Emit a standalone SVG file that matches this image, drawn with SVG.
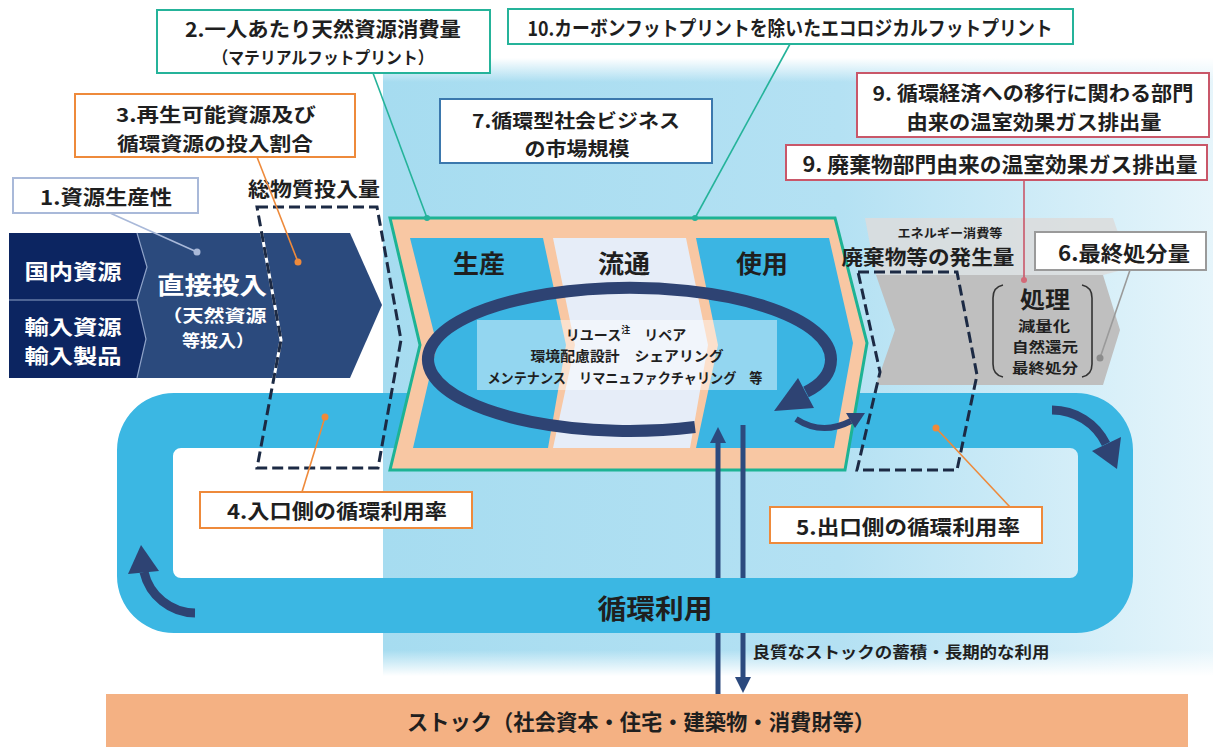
<svg xmlns="http://www.w3.org/2000/svg" width="1213" height="747" viewBox="0 0 1213 747">
<defs>
<linearGradient id="bgH" x1="0" y1="0" x2="1" y2="0">
<stop offset="0" stop-color="#a6dcf0"/>
<stop offset="0.55" stop-color="#b4e1f3"/>
<stop offset="1" stop-color="#e6f5fb"/>
</linearGradient>
<linearGradient id="fadeTop" x1="0" y1="0" x2="0" y2="1">
<stop offset="0" stop-color="#ffffff" stop-opacity="1"/>
<stop offset="1" stop-color="#ffffff" stop-opacity="0"/>
</linearGradient>
<linearGradient id="fadeBot" x1="0" y1="0" x2="0" y2="1">
<stop offset="0" stop-color="#ffffff" stop-opacity="0"/>
<stop offset="1" stop-color="#ffffff" stop-opacity="1"/>
</linearGradient>
<style>
text { font-family: "Noto Sans CJK JP", "Noto Sans", sans-serif; font-weight: bold; fill: #1f1f1f; text-anchor: middle; dominant-baseline: central; }
.wt { fill: #ffffff; }
.box { fill: #ffffff; stroke-width: 2; }
.teal { stroke: #25b39a; }
.org { stroke: #ee8a3b; }
.pink { stroke: #c95769; }
.steel { stroke: #3b78ad; }
.lav { stroke: #a9b9d9; }
.gry { stroke: #9a9a9a; }
.dash { fill: none; stroke: #1c2a44; stroke-width: 3; stroke-dasharray: 11 5; }
.shaft { fill: none; stroke: #2e4373; stroke-linecap: butt; }
.head { fill: #2e4373; }
.vline { stroke: #2c4a7e; stroke-width: 5; }
.vhead { fill: #2c4a7e; }
.lead { fill: none; stroke-width: 1.6; }
.panel { fill: #3bb5e3; }
</style>
</defs>

<g id="background">
<rect x="383" y="58" width="830" height="618" fill="url(#bgH)"/>
<rect x="383" y="58" width="830" height="24" fill="url(#fadeTop)"/>
<rect x="383" y="650" width="830" height="26" fill="url(#fadeBot)"/>
</g>

<g id="input-arrow">
<polygon points="137,233 350,233 382,305 350,378 137,378" fill="#2b4a7d"/>
<polygon points="9,233 137,233 147,267 137,300 146,339 137,378 9,378" fill="#0c2561"/>
<polyline points="137,233 147,267 137,300 146,339 137,378" fill="none" stroke="#8fa3c8" stroke-width="1.2"/>
<line x1="9" y1="300" x2="137" y2="300" stroke="#8fa3c8" stroke-width="1.2"/>
<text class="wt" x="73" y="270" font-size="21" textLength="97" lengthAdjust="spacingAndGlyphs">国内資源</text>
<text class="wt" x="73" y="326" font-size="20" textLength="97" lengthAdjust="spacingAndGlyphs">輸入資源</text>
<text class="wt" x="73" y="355" font-size="20" textLength="97" lengthAdjust="spacingAndGlyphs">輸入製品</text>
<text class="wt" x="212" y="283" font-size="24" textLength="110" lengthAdjust="spacingAndGlyphs">直接投入</text>
<text class="wt" x="214" y="314" font-size="17" textLength="105" lengthAdjust="spacingAndGlyphs">（天然資源</text>
<text class="wt" x="218" y="339" font-size="17" textLength="72" lengthAdjust="spacingAndGlyphs">等投入）</text>
</g>

<g id="ring">
<path fill="#3bb7e3" fill-rule="evenodd" d="M174,393 H1076 A57,57 0 0 1 1133,450 V576 A57,57 0 0 1 1076,633 H174 A57,57 0 0 1 117,576 V450 A57,57 0 0 1 174,393 Z M181,448 H1070 A8,8 0 0 1 1078,456 V570 A8,8 0 0 1 1070,578 H181 A8,8 0 0 1 173,570 V456 A8,8 0 0 1 181,448 Z"/>
<text x="655" y="607" font-size="27" fill="#1c2740" textLength="115" lengthAdjust="spacingAndGlyphs">循環利用</text>
</g>

<g id="lifecycle">
<polygon points="390,218 835,218 867,343 845,470 390,470 420,345" fill="#f8c7a3" stroke="#1db394" stroke-width="3"/>
<polygon class="panel" points="410,238 543,238 566,345 548,448 413,448 437,345"/>
<polygon points="553,238 686,238 708,345 690,448 553,448 575,345" fill="#e6edf8"/>
<polygon class="panel" points="696,238 829,238 853,343 834,448 696,448 718,345"/>
<text x="479" y="262" font-size="25" textLength="52" lengthAdjust="spacingAndGlyphs">生産</text>
<text x="624" y="262" font-size="25" textLength="52" lengthAdjust="spacingAndGlyphs">流通</text>
<text x="762" y="262" font-size="25" textLength="52" lengthAdjust="spacingAndGlyphs">使用</text>
<rect x="477" y="320" width="300" height="70" fill="#ffffff" fill-opacity="0.45"/>
<text x="626" y="334" font-size="14"><tspan>リユース</tspan><tspan font-size="9" dy="-5">注</tspan><tspan dy="5">　リペア</tspan></text>
<text x="627" y="355" font-size="14" textLength="193" lengthAdjust="spacingAndGlyphs">環境配慮設計　シェアリング</text>
<text x="625" y="377" font-size="14" textLength="275" lengthAdjust="spacingAndGlyphs">メンテナンス　リマニュファクチャリング　等</text>
</g>

<g id="disposal">
<polygon points="865,218 1113,218 1130,268 1103,275 876,275 871,250" fill="#dcdcdc" fill-opacity="0.85"/>
<polygon points="876,275 1103,275 1120,330 1103,385 876,385 895,330" fill="#bfbfbf"/>
<text x="950" y="232" font-size="12" textLength="105" lengthAdjust="spacingAndGlyphs">エネルギー消費等</text>
<text x="928" y="256" font-size="20" textLength="173" lengthAdjust="spacingAndGlyphs">廃棄物等の発生量</text>
<path d="M1003,285 Q993,287 993,298 V364 Q993,375 1003,377" fill="none" stroke="#333333" stroke-width="1.6"/>
<path d="M1082,285 Q1092,287 1092,298 V364 Q1092,375 1082,377" fill="none" stroke="#333333" stroke-width="1.6"/>
<text x="1045" y="298" font-size="23" textLength="50" lengthAdjust="spacingAndGlyphs">処理</text>
<text x="1044" y="325" font-size="14" textLength="52" lengthAdjust="spacingAndGlyphs">減量化</text>
<text x="1045" y="346" font-size="14" textLength="66" lengthAdjust="spacingAndGlyphs">自然還元</text>
<text x="1045" y="367" font-size="14" textLength="66" lengthAdjust="spacingAndGlyphs">最終処分</text>
</g>

<g id="stock">
<rect x="106" y="694" width="1082" height="53" fill="#f4b183"/>
<text x="641" y="720" font-size="22" textLength="468" lengthAdjust="spacingAndGlyphs">ストック（社会資本・住宅・建築物・消費財等）</text>
</g>

<g id="connectors">
<path class="shaft" stroke-width="12" d="M695,427 A201.5,71.5 0 1 1 831,359.5 C831,374 822,384 806,392"/>
<polygon class="head" points="774,411 814,408 798,378"/>
<path class="shaft" stroke-width="6" d="M796,419 Q822,436 851,421"/>
<polygon class="head" points="865,413 855,428 846,413"/>
<path class="shaft" stroke-width="9" d="M195,613 A53,53 0 0 1 144,572"/>
<polygon class="head" points="141,545 159,571 128,574"/>
<path class="shaft" stroke-width="9" d="M1052,410 A60,60 0 0 1 1106,444"/>
<polygon class="head" points="1117,469 1121,437 1092,451"/>
<line class="vline" x1="718" y1="694" x2="718" y2="633"/>
<line class="vline" x1="718" y1="578" x2="718" y2="441"/>
<polygon class="vhead" points="718,427 710,443 726,443"/>
<line class="vline" x1="743" y1="425" x2="743" y2="578"/>
<line class="vline" x1="743" y1="633" x2="743" y2="679"/>
<polygon class="vhead" points="743,693 735,677 751,677"/>
<text x="901" y="651" font-size="16" textLength="297" lengthAdjust="spacingAndGlyphs">良質なストックの蓄積・長期的な利用</text>
</g>

<g id="input-total">
<polyline points="261.7,233 281,340 273.9,378" fill="none" stroke="#ffffff" stroke-width="3"/>
<polygon class="dash" points="257,207 377,207 401,340 378,468 257,468 281,340"/>
<text x="314" y="188" font-size="20" textLength="132" lengthAdjust="spacingAndGlyphs">総物質投入量</text>
</g>

<g id="waste-total">
<polygon class="dash" points="858,272 957,272 977,375 957,470 857,470 880,372"/>
</g>

<g id="leaders">
<line class="lead teal" x1="373" y1="73" x2="427" y2="218"/>
<circle cx="427" cy="218" r="3" fill="#25b39a"/>
<line class="lead teal" x1="790" y1="44" x2="695" y2="218"/>
<circle cx="695" cy="218" r="3" fill="#25b39a"/>
<line class="lead org" x1="257" y1="157" x2="298" y2="262"/>
<circle cx="298" cy="262" r="3.5" fill="#ee8a3b"/>
<line class="lead lav" x1="110" y1="213" x2="197" y2="252"/>
<circle cx="197" cy="252" r="3.5" fill="#a9b9d9"/>
<line class="lead org" x1="302" y1="492" x2="325" y2="417"/>
<circle cx="325" cy="417" r="3.5" fill="#ee8a3b"/>
<line class="lead org" x1="1010" y1="507" x2="936" y2="428"/>
<circle cx="936" cy="428" r="3.5" fill="#ee8a3b"/>
<line class="lead pink" x1="1024" y1="180" x2="1024" y2="280"/>
<circle cx="1024" cy="280" r="3" fill="#d36a78"/>
<line class="lead gry" x1="1130" y1="270" x2="1100" y2="358"/>
<circle cx="1100" cy="358" r="3.5" fill="#8c8c8c"/>
</g>

<g id="box2">
<rect class="box teal" x="157" y="10" width="333" height="63"/>
<text x="323" y="28" font-size="20" textLength="276" lengthAdjust="spacingAndGlyphs">2.一人あたり天然資源消費量</text>
<text x="323" y="56" font-size="17" font-weight="normal" fill="#333333" textLength="221" lengthAdjust="spacingAndGlyphs">（マテリアルフットプリント）</text>
</g>

<g id="box10">
<rect class="box teal" x="508" y="9" width="565" height="35"/>
<text x="790" y="27" font-size="20" textLength="525" lengthAdjust="spacingAndGlyphs">10.カーボンフットプリントを除いたエコロジカルフットプリント</text>
</g>

<g id="box3">
<rect class="box org" x="75" y="94" width="280" height="63"/>
<text x="216" y="113" font-size="19" textLength="200" lengthAdjust="spacingAndGlyphs">3.再生可能資源及び</text>
<text x="215" y="142" font-size="19" textLength="196" lengthAdjust="spacingAndGlyphs">循環資源の投入割合</text>
</g>

<g id="box1">
<rect class="box lav" x="13" y="178" width="185" height="35"/>
<text x="106" y="196" font-size="20" textLength="132" lengthAdjust="spacingAndGlyphs">1.資源生産性</text>
</g>

<g id="box7">
<rect class="box steel" x="440" y="99" width="272" height="64"/>
<text x="576" y="119" font-size="19" textLength="208" lengthAdjust="spacingAndGlyphs">7.循環型社会ビジネス</text>
<text x="577" y="147" font-size="19" textLength="105" lengthAdjust="spacingAndGlyphs">の市場規模</text>
</g>

<g id="box9a">
<rect class="box pink" x="857" y="73" width="352" height="64"/>
<text x="1033" y="92" font-size="20" textLength="321" lengthAdjust="spacingAndGlyphs">9. 循環経済への移行に関わる部門</text>
<text x="1034" y="121" font-size="20" textLength="255" lengthAdjust="spacingAndGlyphs">由来の温室効果ガス排出量</text>
</g>

<g id="box9b">
<rect class="box pink" x="786" y="145" width="421" height="35"/>
<text x="1000" y="163" font-size="21" textLength="395" lengthAdjust="spacingAndGlyphs">9. 廃棄物部門由来の温室効果ガス排出量</text>
</g>

<g id="box6">
<rect class="box gry" x="1035" y="232" width="171" height="38"/>
<text x="1124" y="252" font-size="21" textLength="132" lengthAdjust="spacingAndGlyphs">6.最終処分量</text>
</g>

<g id="box4">
<rect class="box org" x="200" y="492" width="272" height="36"/>
<text x="337" y="510" font-size="20" textLength="220" lengthAdjust="spacingAndGlyphs">4.入口側の循環利用率</text>
</g>

<g id="box5">
<rect class="box org" x="770" y="507" width="272" height="36"/>
<text x="908" y="526" font-size="20" textLength="224" lengthAdjust="spacingAndGlyphs">5.出口側の循環利用率</text>
</g>
</svg>
